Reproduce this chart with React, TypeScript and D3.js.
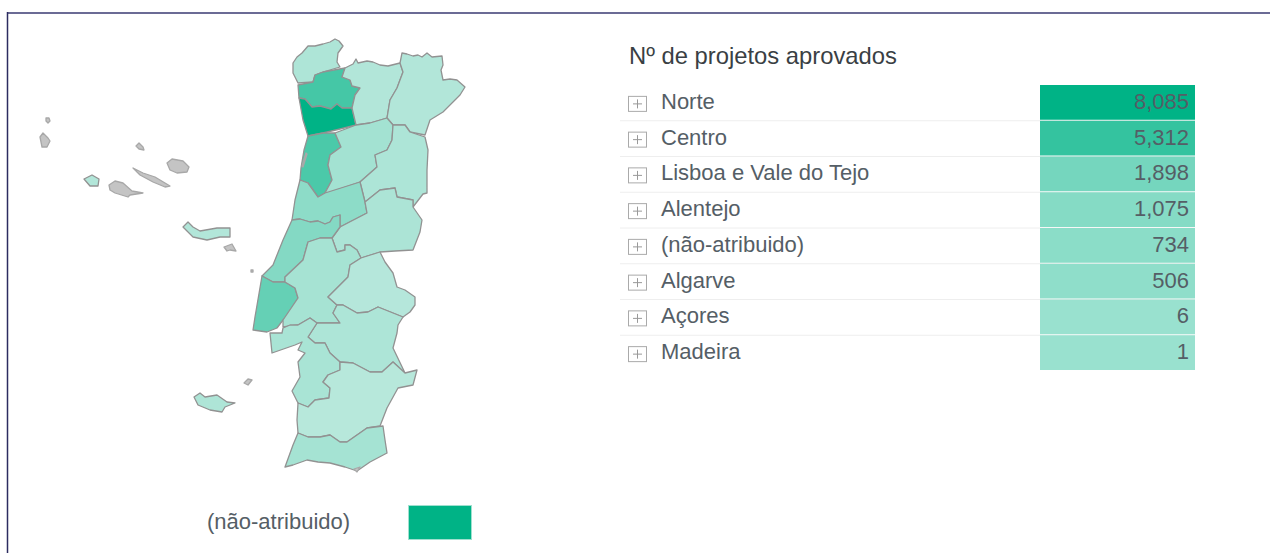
import React from "react";
import * as d3 from "d3";

const WIDTH = 1270;
const HEIGHT = 553;

// table
const regions = ["Norte", "Centro", "Lisboa e Vale do Tejo", "Alentejo", "(não-atribuido)", "Algarve", "Açores", "Madeira"];
const projects = [8085, 5312, 1898, 1075, 734, 506, 6, 1];

// map outlines
const districtNames = [
  "Viana do Castelo", "Braga", "Porto", "Vila Real", "Bragança", "Aveiro", "Viseu", "Guarda", "Coimbra",
  "Castelo Branco", "Leiria", "Lisboa", "Santarém", "Portalegre", "Évora", "Setúbal", "Beja", "Faro",
  "Faial", "São Miguel", "Madeira",
];
const districtValues = [160, 1875, 3000, 100, 100, 1770, 350, 180, 700, 200, 850, 1350, 300, 50, 180, 250, 20, 310, 100, 100, 160];
const districtRings: [number, number][][] = [
  [[298,83],[293,73],[293,63],[297,57],[302,53],[308,46],[315,46],[323,44],[330,42],[335,39],[339,41],[343,46],[338,53],[337,62],[340,67],[323,72],[315,75],[313,82]],
  [[298,85],[313,82],[315,75],[323,72],[345,68],[342,77],[350,80],[352,86],[360,88],[355,95],[352,108],[342,108],[337,104],[331,109],[320,106],[312,107],[305,99],[299,98]],
  [[299,98],[305,99],[312,107],[320,106],[331,109],[337,104],[342,108],[352,108],[356,125],[340,129],[323,133],[308,136],[303,120]],
  [[345,68],[353,64],[356,59],[358,63],[367,61],[373,62],[380,65],[388,66],[400,63],[403,72],[397,88],[390,100],[387,118],[370,123],[356,125],[352,108],[355,95],[360,88],[352,86],[350,80],[342,77]],
  [[400,63],[402,53],[407,54],[413,56],[418,55],[422,57],[427,53],[432,57],[442,56],[443,65],[441,70],[443,80],[450,79],[457,80],[465,87],[460,95],[453,102],[443,112],[430,120],[425,135],[410,132],[405,125],[393,125],[387,118],[390,100],[397,88],[403,72]],
  [[308,136],[323,133],[335,133],[341,147],[330,155],[328,165],[332,180],[325,193],[318,197],[308,183],[300,180],[301,168],[304,150]],
  [[335,133],[356,125],[370,123],[387,118],[393,125],[392,140],[387,150],[375,155],[377,167],[360,182],[328,193],[325,193],[332,180],[328,165],[330,155],[341,147]],
  [[393,125],[405,125],[410,132],[425,137],[428,150],[427,170],[427,193],[423,194],[413,207],[413,200],[397,197],[395,188],[380,190],[365,202],[360,182],[377,167],[375,155],[387,150],[392,140]],
  [[300,180],[308,183],[318,197],[325,193],[360,182],[365,202],[367,213],[340,227],[340,215],[333,217],[330,222],[325,224],[318,221],[310,222],[300,219],[292,220],[295,200]],
  [[367,213],[365,202],[380,190],[395,188],[397,197],[413,200],[413,207],[422,220],[420,232],[413,250],[395,251],[380,252],[361,258],[357,250],[350,245],[345,245],[345,250],[337,252],[332,238],[340,227]],
  [[292,220],[300,219],[310,222],[318,221],[325,224],[330,222],[333,217],[340,215],[340,227],[332,238],[320,238],[308,242],[303,260],[285,277],[285,282],[273,282],[262,276],[273,265],[283,240]],
  [[262,276],[273,282],[285,282],[295,288],[298,298],[285,318],[283,320],[277,328],[267,332],[253,330],[255,317]],
  [[285,277],[303,260],[308,242],[320,238],[332,238],[337,252],[345,250],[345,245],[350,245],[357,250],[361,258],[350,265],[348,277],[328,297],[337,305],[333,313],[340,323],[317,323],[310,318],[298,325],[283,327],[283,320],[298,298],[295,288],[285,282]],
  [[361,258],[380,252],[385,262],[393,273],[395,280],[397,287],[405,290],[415,297],[415,305],[410,312],[403,317],[393,313],[378,307],[368,312],[357,313],[343,305],[337,305],[328,297],[348,277],[350,265]],
  [[337,305],[343,305],[357,313],[368,312],[378,307],[393,313],[403,317],[398,325],[397,333],[393,348],[405,373],[393,362],[382,372],[370,372],[353,363],[340,362],[330,353],[325,343],[315,343],[308,337],[317,323],[340,323],[333,313]],
  [[270,333],[272,353],[295,345],[302,342],[298,350],[305,353],[298,362],[300,377],[292,391],[298,403],[308,407],[315,400],[329,398],[330,388],[323,382],[328,375],[340,370],[340,362],[330,353],[325,343],[315,343],[308,337],[317,323],[310,318],[298,325],[290,325],[283,328],[282,333]],
  [[298,403],[308,407],[315,400],[329,398],[330,388],[323,382],[328,375],[340,370],[340,362],[353,363],[370,372],[382,372],[393,362],[405,373],[417,370],[413,385],[398,388],[387,408],[380,426],[367,428],[347,442],[340,442],[330,435],[320,437],[308,437],[298,433],[297,420]],
  [[298,433],[308,437],[320,437],[330,435],[340,442],[347,442],[367,428],[383,426],[385,440],[387,453],[370,462],[357,471],[345,467],[330,463],[318,462],[307,460],[293,465],[285,467],[289,456],[293,445]],
  [[84,179],[92,175],[99,179],[98,186],[90,186]],
  [[183,227],[188,222],[193,227],[200,231],[217,228],[230,228],[230,237],[220,237],[207,240],[193,237]],
  [[194,397],[200,393],[205,397],[217,395],[227,402],[235,403],[225,407],[222,412],[210,410],[198,405]],
];

// places with no data, drawn grey
const noDataRings: [number, number][][] = [
  [[46,118],[49,118],[50,121],[48,123],[46,121]],
  [[40,137],[43,133],[48,138],[50,141],[47,147],[42,147]],
  [[136,146],[139,143],[143,147],[144,150],[139,149]],
  [[167,163],[172,159],[183,161],[189,167],[187,172],[177,173],[170,170]],
  [[133,168],[143,173],[155,177],[170,186],[165,187],[153,182],[140,175]],
  [[109,185],[115,181],[123,183],[132,191],[143,193],[130,195],[128,197],[115,193],[110,190]],
  [[224,247],[232,244],[236,251],[230,250],[227,251]],
  [[244,383],[248,379],[252,380],[248,385]],
  [[306,153],[307,154],[303,167],[302,166]],
  [[251,270],[253,270],[253,272],[251,272]],
  [[354,469],[360,467],[357,472]],
];

const legendLabel = "(não-atribuido)";
const tableTitle = "Nº de projetos aprovados";

const tableColor = d3.scaleLinear<string>().domain([1, 8085]).range(["#99e1cf", "#00b386"]);
const mapColor = d3.scaleLinear<string>().domain([0, 3000]).range(["#b8e8dc", "#00b386"]);

const rowScale = d3.scaleBand<string>().domain(regions).range([85, 371]);
const outline = d3.line<[number, number]>().curve(d3.curveLinearClosed);
const fmt = d3.format(",");

const FONT = "'Liberation Sans', Arial, sans-serif";

export default function App() {
  return (
    <svg
      width={WIDTH}
      height={HEIGHT}
      style={{ position: "absolute", left: 0, top: 0, background: "#fff", fontFamily: FONT }}
    >
      <defs>
        <filter id="soft" x="-5%" y="-5%" width="110%" height="110%">
          <feGaussianBlur stdDeviation="0.55" />
        </filter>
      </defs>

      <line x1={7} x2={WIDTH} y1={13} y2={13} stroke="#6b6b95" strokeWidth={2} />
      <line x1={7.5} x2={7.5} y1={12} y2={HEIGHT} stroke="#2c2c60" strokeWidth={1.5} />

      <g stroke="#929292" strokeWidth={1.3} strokeLinejoin="round" filter="url(#soft)">
        {districtRings.map((ring, i) => (
          <path key={districtNames[i]} d={outline(ring) || ""} fill={mapColor(districtValues[i])} />
        ))}
        {noDataRings.map((ring, i) => (
          <path key={i} d={outline(ring) || ""} fill="#c4c4c4" stroke="#a8a8a8" />
        ))}
      </g>

      <text x={207} y={529} fontSize={22} fill="#555e66">{legendLabel}</text>
      <rect x={408.5} y={505.5} width={63} height={34} fill="#00b386" stroke="#9fe0cf" />

      <text x={629} y={64} fontSize={23.8} fill="#3a3f44">{tableTitle}</text>

      {regions.map((r, i) => {
        const y = rowScale(r) as number;
        const h = rowScale.bandwidth();
        const cy = y + h / 2;
        return (
          <g key={r}>
            {i < regions.length - 1 && (
              <line x1={620} x2={1195} y1={y + h} y2={y + h} stroke="#eeeeee" />
            )}
            <rect x={1040} y={y} width={155} height={h - 1} fill={tableColor(projects[i])} />
            <rect x={628.5} y={cy - 6.5} width={18} height={15} fill="none" stroke="#aaa" />
            <path d={`M633 ${cy + 1}h9M637.5 ${cy - 3.5}v9`} stroke="#999" fill="none" />
            <text x={661} y={cy + 6} fontSize={22} fill="#555e66">{r}</text>
            <text x={1189} y={cy + 6} fontSize={22} fill="#555e66" textAnchor="end">{fmt(projects[i])}</text>
          </g>
        );
      })}
    </svg>
  );
}
